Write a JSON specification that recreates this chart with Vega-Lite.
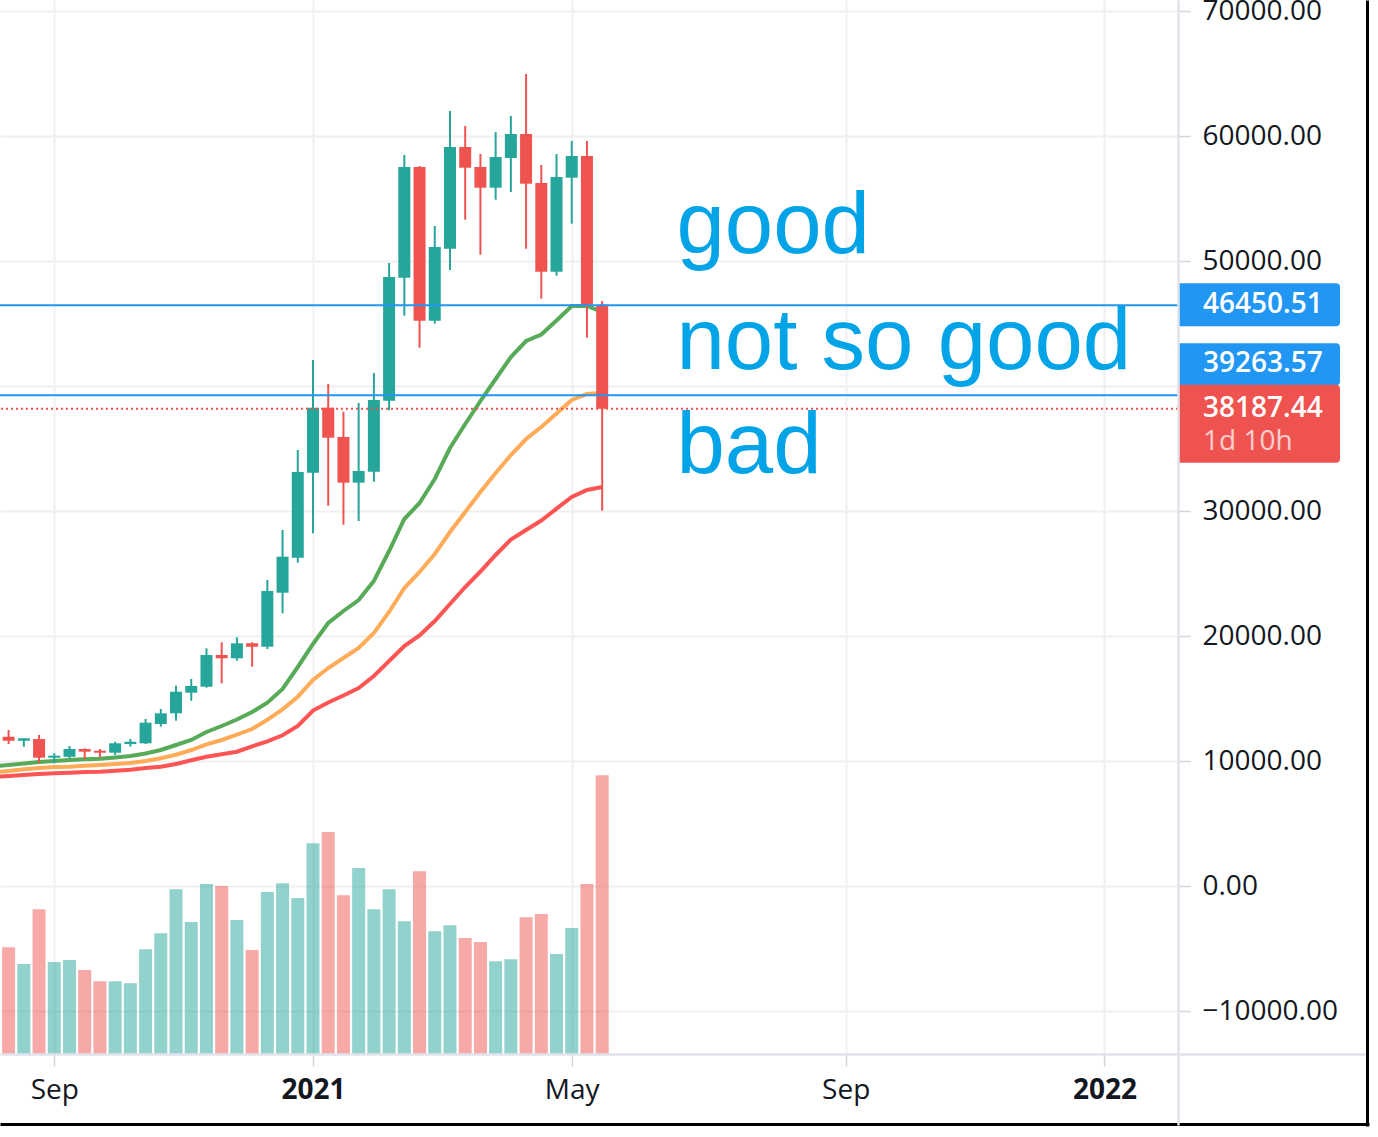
{
  "$schema": "https://vega.github.io/schema/vega-lite/v6.json",
  "width": 1178,
  "height": 1054,
  "autosize": "none",
  "padding": {"left": 0, "top": 0, "right": 200, "bottom": 83},
  "background": "white",
  "config": {
    "view": {"stroke": null},
    "axis": {"labelFont": "Open Sans", "labelFontSize": 28, "labelColor": "#131722"}
  },
  "datasets": {
    "weeks": [
      {"date": "2020-08-17T00:00:00", "open": 11944, "high": 12480, "low": 11360, "close": 11624, "volume": 267},
      {"date": "2020-08-24T00:00:00", "open": 11624, "high": 11830, "low": 11144, "close": 11816, "volume": 225},
      {"date": "2020-08-31T00:00:00", "open": 11760, "high": 12080, "low": 9816, "close": 10264, "volume": 362},
      {"date": "2020-09-07T00:00:00", "open": 10264, "high": 10616, "low": 9816, "close": 10424, "volume": 230},
      {"date": "2020-09-14T00:00:00", "open": 10344, "high": 11200, "low": 10216, "close": 10960, "volume": 235},
      {"date": "2020-09-21T00:00:00", "open": 10960, "high": 11016, "low": 10136, "close": 10744, "volume": 210},
      {"date": "2020-09-28T00:00:00", "open": 10824, "high": 10960, "low": 10296, "close": 10664, "volume": 182},
      {"date": "2020-10-05T00:00:00", "open": 10664, "high": 11544, "low": 10480, "close": 11416, "volume": 182},
      {"date": "2020-10-12T00:00:00", "open": 11360, "high": 11760, "low": 11144, "close": 11544, "volume": 177},
      {"date": "2020-10-19T00:00:00", "open": 11416, "high": 13360, "low": 11360, "close": 13064, "volume": 262},
      {"date": "2020-10-26T00:00:00", "open": 12960, "high": 14160, "low": 12744, "close": 13816, "volume": 302},
      {"date": "2020-11-02T00:00:00", "open": 13816, "high": 16024, "low": 13224, "close": 15544, "volume": 412},
      {"date": "2020-11-09T00:00:00", "open": 15464, "high": 16560, "low": 14824, "close": 16000, "volume": 330},
      {"date": "2020-11-16T00:00:00", "open": 15944, "high": 19016, "low": 15864, "close": 18480, "volume": 425},
      {"date": "2020-11-23T00:00:00", "open": 18480, "high": 19496, "low": 16216, "close": 18216, "volume": 420},
      {"date": "2020-11-30T00:00:00", "open": 18216, "high": 19896, "low": 18024, "close": 19416, "volume": 335},
      {"date": "2020-12-07T00:00:00", "open": 19416, "high": 19496, "low": 17544, "close": 19144, "volume": 260},
      {"date": "2020-12-14T00:00:00", "open": 19144, "high": 24480, "low": 18960, "close": 23600, "volume": 405},
      {"date": "2020-12-21T00:00:00", "open": 23464, "high": 28480, "low": 21816, "close": 26344, "volume": 427},
      {"date": "2020-12-28T00:00:00", "open": 26264, "high": 34880, "low": 25864, "close": 33120, "volume": 390},
      {"date": "2021-01-04T00:00:00", "open": 33064, "high": 42080, "low": 28216, "close": 38264, "volume": 527},
      {"date": "2021-01-11T00:00:00", "open": 38264, "high": 40160, "low": 30424, "close": 35864, "volume": 555},
      {"date": "2021-01-18T00:00:00", "open": 35920, "high": 37944, "low": 28904, "close": 32264, "volume": 397},
      {"date": "2021-01-25T00:00:00", "open": 32264, "high": 38640, "low": 29200, "close": 33200, "volume": 465},
      {"date": "2021-02-01T00:00:00", "open": 33144, "high": 41040, "low": 32344, "close": 38880, "volume": 362},
      {"date": "2021-02-08T00:00:00", "open": 38824, "high": 49840, "low": 38056, "close": 48720, "volume": 412},
      {"date": "2021-02-15T00:00:00", "open": 48664, "high": 58480, "low": 45624, "close": 57520, "volume": 332},
      {"date": "2021-02-22T00:00:00", "open": 57520, "high": 57600, "low": 43064, "close": 45224, "volume": 457},
      {"date": "2021-03-01T00:00:00", "open": 45224, "high": 52800, "low": 44984, "close": 51120, "volume": 307},
      {"date": "2021-03-08T00:00:00", "open": 50984, "high": 62000, "low": 49280, "close": 59120, "volume": 322},
      {"date": "2021-03-15T00:00:00", "open": 59120, "high": 60800, "low": 53304, "close": 57464, "volume": 290},
      {"date": "2021-03-22T00:00:00", "open": 57520, "high": 58560, "low": 50504, "close": 55864, "volume": 280},
      {"date": "2021-03-29T00:00:00", "open": 55864, "high": 60320, "low": 54904, "close": 58320, "volume": 232},
      {"date": "2021-04-05T00:00:00", "open": 58240, "high": 61600, "low": 55520, "close": 60160, "volume": 237},
      {"date": "2021-04-12T00:00:00", "open": 60160, "high": 64960, "low": 50984, "close": 56184, "volume": 342},
      {"date": "2021-04-19T00:00:00", "open": 56240, "high": 57680, "low": 46984, "close": 49144, "volume": 350},
      {"date": "2021-04-26T00:00:00", "open": 49144, "high": 58560, "low": 48824, "close": 56720, "volume": 250},
      {"date": "2021-05-03T00:00:00", "open": 56664, "high": 59600, "low": 52984, "close": 58400, "volume": 315},
      {"date": "2021-05-10T00:00:00", "open": 58400, "high": 59600, "low": 43864, "close": 46504, "volume": 425},
      {"date": "2021-05-17T00:00:00", "open": 46504, "high": 46800, "low": 30024, "close": 38187.44, "volume": 697}
    ],
    "ema": [
      {"date": "2020-08-10T00:00:00", "fast": 9560, "mid": 9080, "slow": 8720},
      {"date": "2020-08-17T00:00:00", "fast": 9680, "mid": 9200, "slow": 8800},
      {"date": "2020-08-24T00:00:00", "fast": 9800, "mid": 9336, "slow": 8880},
      {"date": "2020-08-31T00:00:00", "fast": 9920, "mid": 9440, "slow": 8960},
      {"date": "2020-09-07T00:00:00", "fast": 10000, "mid": 9520, "slow": 9016},
      {"date": "2020-09-14T00:00:00", "fast": 10080, "mid": 9544, "slow": 9064},
      {"date": "2020-09-21T00:00:00", "fast": 10136, "mid": 9624, "slow": 9120},
      {"date": "2020-09-28T00:00:00", "fast": 10184, "mid": 9680, "slow": 9144},
      {"date": "2020-10-05T00:00:00", "fast": 10280, "mid": 9760, "slow": 9224},
      {"date": "2020-10-12T00:00:00", "fast": 10400, "mid": 9840, "slow": 9304},
      {"date": "2020-10-19T00:00:00", "fast": 10600, "mid": 10000, "slow": 9440},
      {"date": "2020-10-26T00:00:00", "fast": 10880, "mid": 10216, "slow": 9544},
      {"date": "2020-11-02T00:00:00", "fast": 11280, "mid": 10504, "slow": 9760},
      {"date": "2020-11-09T00:00:00", "fast": 11680, "mid": 10880, "slow": 10056},
      {"date": "2020-11-16T00:00:00", "fast": 12320, "mid": 11336, "slow": 10344},
      {"date": "2020-11-23T00:00:00", "fast": 12800, "mid": 11680, "slow": 10536},
      {"date": "2020-11-30T00:00:00", "fast": 13320, "mid": 12104, "slow": 10744},
      {"date": "2020-12-07T00:00:00", "fast": 13920, "mid": 12560, "slow": 11176},
      {"date": "2020-12-14T00:00:00", "fast": 14664, "mid": 13304, "slow": 11576},
      {"date": "2020-12-21T00:00:00", "fast": 15760, "mid": 14136, "slow": 12056},
      {"date": "2020-12-28T00:00:00", "fast": 17520, "mid": 15144, "slow": 12800},
      {"date": "2021-01-04T00:00:00", "fast": 19360, "mid": 16480, "slow": 14040},
      {"date": "2021-01-11T00:00:00", "fast": 21040, "mid": 17440, "slow": 14680},
      {"date": "2021-01-18T00:00:00", "fast": 22000, "mid": 18240, "slow": 15240},
      {"date": "2021-01-25T00:00:00", "fast": 22880, "mid": 19040, "slow": 15840},
      {"date": "2021-02-01T00:00:00", "fast": 24400, "mid": 20240, "slow": 16800},
      {"date": "2021-02-08T00:00:00", "fast": 26800, "mid": 21920, "slow": 18000},
      {"date": "2021-02-15T00:00:00", "fast": 29360, "mid": 23840, "slow": 19200},
      {"date": "2021-02-22T00:00:00", "fast": 30640, "mid": 25120, "slow": 20040},
      {"date": "2021-03-01T00:00:00", "fast": 32560, "mid": 26560, "slow": 21200},
      {"date": "2021-03-08T00:00:00", "fast": 35040, "mid": 28320, "slow": 22560},
      {"date": "2021-03-15T00:00:00", "fast": 36960, "mid": 29920, "slow": 23920},
      {"date": "2021-03-22T00:00:00", "fast": 38800, "mid": 31520, "slow": 25160},
      {"date": "2021-03-29T00:00:00", "fast": 40560, "mid": 33040, "slow": 26480},
      {"date": "2021-04-05T00:00:00", "fast": 42320, "mid": 34480, "slow": 27720},
      {"date": "2021-04-12T00:00:00", "fast": 43600, "mid": 35760, "slow": 28480},
      {"date": "2021-04-19T00:00:00", "fast": 44120, "mid": 36720, "slow": 29240},
      {"date": "2021-04-26T00:00:00", "fast": 45240, "mid": 37800, "slow": 30184},
      {"date": "2021-05-03T00:00:00", "fast": 46400, "mid": 38880, "slow": 31120},
      {"date": "2021-05-10T00:00:00", "fast": 46400, "mid": 39360, "slow": 31680},
      {"date": "2021-05-17T00:00:00", "fast": 45920, "mid": 39440, "slow": 31920}
    ],
    "levels": [
      {"name": "upper", "price": 46450.51},
      {"name": "lower", "price": 39263.57},
      {"name": "last", "price": 38187.44, "countdown": "1d 10h"}
    ],
    "notes": [
      {"date": "2021-06-20T04:00:00", "price": 50616, "text": "good"},
      {"date": "2021-06-20T04:00:00", "price": 41336, "text": "not so good"},
      {"date": "2021-06-20T04:00:00", "price": 33064, "text": "bad"}
    ]
  },
  "resolve": {
    "scale": {"x": "independent", "y": "independent"},
    "axis": {"x": "independent", "y": "independent"}
  },
  "layer": [
    {
      "data": {"name": "weeks"},
      "mark": {"type": "bar", "width": 13, "opacity": 0.5},
      "encoding": {
        "x": {"field": "date", "type": "temporal", "axis": null,
              "scale": {"domain": [{"year": 2020, "month": 8, "date": 13, "hours": 1}, {"year": 2022, "month": 2, "date": 5, "hours": 20}], "padding": 0, "nice": false}},
        "y": {"field": "volume", "type": "quantitative", "axis": null,
              "scale": {"domain": [0, 2635], "nice": false}},
        "color": {"condition": {"test": "datum.close >= datum.open", "value": "#26a69a"}, "value": "#ef5350"}
      }
    },
    {
      "layer": [
        {
          "data": {"name": "ema"},
          "mark": {"type": "line", "color": "#57aa57", "strokeWidth": 4, "clip": true},
          "encoding": {
            "x": {"field": "date", "type": "temporal",
                  "scale": {"domain": [{"year": 2020, "month": 8, "date": 13, "hours": 1}, {"year": 2022, "month": 2, "date": 5, "hours": 20}], "padding": 0, "nice": false},
                  "axis": {
                    "orient": "bottom", "title": null, "domain": false,
                    "values": [
                      {"year": 2020, "month": 9, "date": 7},
                      {"year": 2021, "month": 1, "date": 4},
                      {"year": 2021, "month": 5, "date": 3},
                      {"year": 2021, "month": 9, "date": 6},
                      {"year": 2022, "month": 1, "date": 3}
                    ],
                    "labelExpr": "month(datum.value) == 0 ? timeFormat(datum.value, '%Y') : timeFormat(datum.value, '%b')",
                    "labelFontWeight": {"condition": {"test": "month(datum.value) == 0", "value": "bold"}, "value": "normal"},
                    "tickSize": 12, "tickColor": "#d1d4dc", "tickWidth": 1.5, "labelPadding": 10,
                    "grid": true, "gridColor": "#f0f0f0", "gridWidth": 2,
                    "labelFlush": false, "labelOverlap": false
                  }},
            "y": {"field": "fast", "type": "quantitative",
                  "scale": {"domain": [-13440, 70880], "nice": false, "zero": false},
                  "axis": {
                    "orient": "right", "title": null, "domain": false,
                    "values": [-10000, 0, 10000, 20000, 30000, 40000, 50000, 60000, 70000],
                    "format": ".2f",
                    "labelExpr": "datum.value == 40000 ? '' : datum.label",
                    "tickSize": 12, "tickColor": "#d1d4dc", "tickWidth": 1.5, "labelPadding": 12,
                    "grid": true, "gridColor": "#f0f0f0", "gridWidth": 2,
                    "labelFlush": false, "labelOverlap": false, "labelBound": false
                  }}
          }
        },
        {
          "data": {"name": "ema"},
          "mark": {"type": "line", "color": "#ffab57", "strokeWidth": 4, "clip": true},
          "encoding": {
            "x": {"field": "date", "type": "temporal"},
            "y": {"field": "mid", "type": "quantitative"}
          }
        },
        {
          "data": {"name": "ema"},
          "mark": {"type": "line", "color": "#ff5454", "strokeWidth": 4, "clip": true},
          "encoding": {
            "x": {"field": "date", "type": "temporal"},
            "y": {"field": "slow", "type": "quantitative"}
          }
        },
        {
          "data": {"name": "weeks"},
          "mark": {"type": "rule", "strokeWidth": 2},
          "encoding": {
            "x": {"field": "date", "type": "temporal"},
            "y": {"field": "low", "type": "quantitative"},
            "y2": {"field": "high"},
            "color": {"condition": {"test": "datum.close >= datum.open", "value": "#26a69a"}, "value": "#ef5350"}
          }
        },
        {
          "data": {"name": "weeks"},
          "mark": {"type": "bar", "width": 12},
          "encoding": {
            "x": {"field": "date", "type": "temporal"},
            "y": {"field": "open", "type": "quantitative"},
            "y2": {"field": "close"},
            "color": {"condition": {"test": "datum.close >= datum.open", "value": "#26a69a"}, "value": "#ef5350"}
          }
        },
        {
          "data": {"name": "levels"},
          "transform": [{"filter": "datum.name != 'last'"}],
          "mark": {"type": "rule", "color": "#2196f3", "strokeWidth": 2},
          "encoding": {"y": {"field": "price", "type": "quantitative"}}
        },
        {
          "data": {"name": "levels"},
          "transform": [{"filter": "datum.name == 'last'"}],
          "mark": {"type": "rule", "color": "#ef5350", "strokeWidth": 2, "strokeDash": [2, 3]},
          "encoding": {"y": {"field": "price", "type": "quantitative"}}
        },
        {
          "data": {"name": "notes"},
          "mark": {"type": "text", "align": "left", "baseline": "alphabetic", "font": "Liberation Sans", "fontSize": 87, "color": "#03a3e8"},
          "encoding": {
            "x": {"field": "date", "type": "temporal"},
            "y": {"field": "price", "type": "quantitative"},
            "text": {"field": "text"}
          }
        },
        {
          "data": {"name": "levels"},
          "transform": [{"filter": "datum.name == 'upper'"}],
          "mark": {"type": "point", "shape": "M0,-22H158Q162,-22 162,-18V17Q162,21 158,21H0Z", "size": 4, "filled": true, "color": "#2196f3", "opacity": 1, "strokeWidth": 0},
          "encoding": {"x": {"value": "width"}, "y": {"field": "price", "type": "quantitative"}}
        },
        {
          "data": {"name": "levels"},
          "transform": [{"filter": "datum.name == 'lower'"}],
          "mark": {"type": "point", "shape": "M0,-52H158Q162,-52 162,-48V-14Q162,-10 158,-10H0Z", "size": 4, "filled": true, "color": "#2196f3", "opacity": 1, "strokeWidth": 0},
          "encoding": {"x": {"value": "width"}, "y": {"field": "price", "type": "quantitative"}}
        },
        {
          "data": {"name": "levels"},
          "transform": [{"filter": "datum.name == 'last'"}],
          "mark": {"type": "point", "shape": "M0,-24H158Q162,-24 162,-20V50Q162,54 158,54H0Z", "size": 4, "filled": true, "color": "#ef5350", "opacity": 1, "strokeWidth": 0},
          "encoding": {"x": {"value": "width"}, "y": {"field": "price", "type": "quantitative"}}
        },
        {
          "data": {"name": "levels"},
          "transform": [{"filter": "datum.name == 'upper'"}],
          "mark": {"type": "text", "align": "left", "baseline": "middle", "dx": 25, "font": "Open Sans", "fontSize": 28, "fontWeight": 600, "color": "#ffffff"},
          "encoding": {"x": {"value": "width"}, "y": {"field": "price", "type": "quantitative"}, "text": {"field": "price", "type": "quantitative", "format": ".2f"}}
        },
        {
          "data": {"name": "levels"},
          "transform": [{"filter": "datum.name == 'lower'"}],
          "mark": {"type": "text", "align": "left", "baseline": "middle", "dx": 25, "dy": -31, "font": "Open Sans", "fontSize": 28, "fontWeight": 600, "color": "#ffffff"},
          "encoding": {"x": {"value": "width"}, "y": {"field": "price", "type": "quantitative"}, "text": {"field": "price", "type": "quantitative", "format": ".2f"}}
        },
        {
          "data": {"name": "levels"},
          "transform": [{"filter": "datum.name == 'last'"}],
          "mark": {"type": "text", "align": "left", "baseline": "middle", "dx": 25, "font": "Open Sans", "fontSize": 28, "fontWeight": 600, "color": "#ffffff"},
          "encoding": {"x": {"value": "width"}, "y": {"field": "price", "type": "quantitative"}, "text": {"field": "price", "type": "quantitative", "format": ".2f"}}
        },
        {
          "data": {"name": "levels"},
          "transform": [{"filter": "datum.name == 'last'"}],
          "mark": {"type": "text", "align": "left", "baseline": "middle", "dx": 25, "dy": 33, "font": "Open Sans", "fontSize": 28, "color": "#ffffff", "opacity": 0.72},
          "encoding": {"x": {"value": "width"}, "y": {"field": "price", "type": "quantitative"}, "text": {"field": "countdown"}}
        }
      ]
    },
    {
      "data": {"values": [{"u": 0, "v": 0}]},
      "mark": {"type": "point", "opacity": 0},
      "encoding": {
        "x": {"field": "u", "type": "quantitative", "scale": {"domain": [0, 1], "range": [0, 1368]},
              "axis": {"orient": "bottom", "offset": 0, "title": null, "domainColor": "#e0e3eb", "domainWidth": 2.5, "ticks": false, "labels": false, "grid": false, "zindex": 1}},
        "y": {"field": "v", "type": "quantitative", "scale": {"domain": [0, 1], "range": [1125, 0]},
              "axis": {"orient": "right", "offset": 0, "title": null, "domainColor": "#e0e3eb", "domainWidth": 2.5, "ticks": false, "labels": false, "grid": false, "zindex": 1}}
      }
    },
    {
      "data": {"values": [{"u": 0, "v": 0}]},
      "mark": {"type": "point", "opacity": 0},
      "encoding": {
        "x": {"field": "u", "type": "quantitative", "scale": {"domain": [0, 1], "range": [0, 1369]},
              "axis": {"orient": "bottom", "offset": 70, "title": null, "domainColor": "#000000", "domainWidth": 3, "ticks": false, "labels": false, "grid": false, "zindex": 1}},
        "y": {"field": "v", "type": "quantitative", "scale": {"domain": [0, 1], "range": [1126, 0]},
              "axis": {"orient": "right", "offset": 189, "title": null, "domainColor": "#000000", "domainWidth": 3, "ticks": false, "labels": false, "grid": false, "zindex": 1}}
      }
    }
  ]
}
